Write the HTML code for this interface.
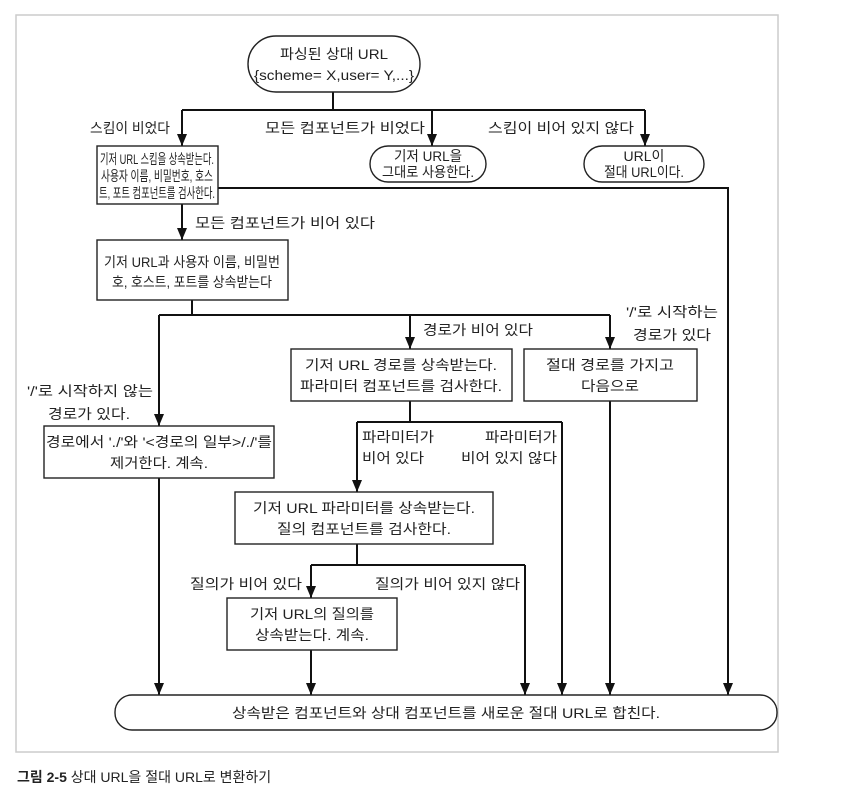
<!DOCTYPE html>
<html><head><meta charset="utf-8"><style>
body{margin:0;background:#fff}
svg text{font-family:"Liberation Sans","Noto Sans CJK KR",sans-serif;font-size:14px;fill:#222}
</style></head><body>
<svg width="852" height="805" viewBox="0 0 852 805" xmlns="http://www.w3.org/2000/svg">
<defs><marker id="a" markerWidth="12" markerHeight="10" refX="12" refY="5" orient="auto" markerUnits="userSpaceOnUse"><path d="M0,0 L12,5 L0,10 Z" fill="#111"/></marker></defs>
<rect x="16" y="15" width="762" height="737" fill="none" stroke="#ccc" stroke-width="1.5"/>
<g fill="none" stroke="#111" stroke-width="2">
<path d="M333,92 V110"/>
<path d="M182,110 H645"/>
<path d="M182,110 V146" marker-end="url(#a)"/>
<path d="M432,110 V146" marker-end="url(#a)"/>
<path d="M645,110 V146" marker-end="url(#a)"/>
<path d="M218,188 H728 V695" marker-end="url(#a)"/>
<path d="M182,204 V240" marker-end="url(#a)"/>
<path d="M192,300 V315"/>
<path d="M159,315 H610"/>
<path d="M159,315 V426" marker-end="url(#a)"/>
<path d="M410,315 V349" marker-end="url(#a)"/>
<path d="M610,315 V349" marker-end="url(#a)"/>
<path d="M410,401 V422"/>
<path d="M357,422 H562"/>
<path d="M357,422 V492" marker-end="url(#a)"/>
<path d="M562,422 V695" marker-end="url(#a)"/>
<path d="M357,544 V565"/>
<path d="M311,565 H525"/>
<path d="M311,565 V598" marker-end="url(#a)"/>
<path d="M525,565 V695" marker-end="url(#a)"/>
<path d="M159,478 V695" marker-end="url(#a)"/>
<path d="M311,650 V695" marker-end="url(#a)"/>
<path d="M610,401 V695" marker-end="url(#a)"/>
</g>
<g fill="#fff" stroke="#222" stroke-width="1.4">
<rect x="248" y="36" width="172" height="56" rx="28"/>
<rect x="97" y="146" width="121" height="58"/>
<rect x="370" y="146" width="116" height="36" rx="18"/>
<rect x="584" y="146" width="120" height="36" rx="18"/>
<rect x="97" y="240" width="191" height="60"/>
<rect x="291" y="349" width="221" height="52"/>
<rect x="524" y="349" width="173" height="52"/>
<rect x="44" y="426" width="230" height="52"/>
<rect x="235" y="492" width="258" height="52"/>
<rect x="227" y="598" width="170" height="52"/>
<rect x="115" y="695" width="662" height="35" rx="17"/>
</g>
<g text-anchor="middle">
<text x="334" y="59" textLength="108" lengthAdjust="spacingAndGlyphs">파싱된 상대 URL</text>
<text x="334" y="80" textLength="160" lengthAdjust="spacingAndGlyphs">{scheme= X,user= Y,...}</text>
<text x="157" y="164" font-size="13.5" textLength="114" lengthAdjust="spacingAndGlyphs">기저 URL 스킴을 상속받는다.</text>
<text x="157" y="181" font-size="13.5" textLength="112" lengthAdjust="spacingAndGlyphs">사용자 이름, 비밀번호, 호스</text>
<text x="157" y="198" font-size="13.5" textLength="116" lengthAdjust="spacingAndGlyphs">트, 포트 컴포넌트를 검사한다.</text>
<text x="428" y="161" font-size="13" textLength="68" lengthAdjust="spacingAndGlyphs">기저 URL을</text>
<text x="428" y="177" font-size="13" textLength="92" lengthAdjust="spacingAndGlyphs">그대로 사용한다.</text>
<text x="644" y="161" font-size="13">URL이</text>
<text x="644" y="177" font-size="13" textLength="80" lengthAdjust="spacingAndGlyphs">절대 URL이다.</text>
<text x="192" y="267" font-size="13" textLength="176" lengthAdjust="spacingAndGlyphs">기저 URL과 사용자 이름, 비밀번</text>
<text x="192" y="287" font-size="13" textLength="160" lengthAdjust="spacingAndGlyphs">호, 호스트, 포트를 상속받는다</text>
<text x="401" y="370" textLength="192" lengthAdjust="spacingAndGlyphs">기저 URL 경로를 상속받는다.</text>
<text x="401" y="391" textLength="202" lengthAdjust="spacingAndGlyphs">파라미터 컴포넌트를 검사한다.</text>
<text x="610" y="370" textLength="128" lengthAdjust="spacingAndGlyphs">절대 경로를 가지고</text>
<text x="610" y="391" textLength="58" lengthAdjust="spacingAndGlyphs">다음으로</text>
<text x="159" y="447" textLength="226" lengthAdjust="spacingAndGlyphs">경로에서 './'와 '&lt;경로의 일부&gt;/./'를</text>
<text x="159" y="468" textLength="98" lengthAdjust="spacingAndGlyphs">제거한다. 계속.</text>
<text x="364" y="513" textLength="222" lengthAdjust="spacingAndGlyphs">기저 URL 파라미터를 상속받는다.</text>
<text x="364" y="534" textLength="174" lengthAdjust="spacingAndGlyphs">질의 컴포넌트를 검사한다.</text>
<text x="312" y="619" textLength="124" lengthAdjust="spacingAndGlyphs">기저 URL의 질의를</text>
<text x="312" y="640" textLength="114" lengthAdjust="spacingAndGlyphs">상속받는다. 계속.</text>
<text x="446" y="718" textLength="428" lengthAdjust="spacingAndGlyphs">상속받은 컴포넌트와 상대 컴포넌트를 새로운 절대 URL로 합친다.</text>
</g>
<text x="90" y="133" textLength="80" lengthAdjust="spacingAndGlyphs">스킴이 비었다</text>
<text x="265" y="133" textLength="160" lengthAdjust="spacingAndGlyphs">모든 컴포넌트가 비었다</text>
<text x="488" y="133" textLength="146" lengthAdjust="spacingAndGlyphs">스킴이 비어 있지 않다</text>
<text x="195" y="228" textLength="180" lengthAdjust="spacingAndGlyphs">모든 컴포넌트가 비어 있다</text>
<text x="423" y="335" textLength="110" lengthAdjust="spacingAndGlyphs">경로가 비어 있다</text>
<text x="626" y="317" textLength="92" lengthAdjust="spacingAndGlyphs">'/'로 시작하는</text>
<text x="633" y="340" textLength="78" lengthAdjust="spacingAndGlyphs">경로가 있다</text>
<text x="27" y="396" textLength="126" lengthAdjust="spacingAndGlyphs">'/'로 시작하지 않는</text>
<text x="48" y="419" textLength="82" lengthAdjust="spacingAndGlyphs">경로가 있다.</text>
<text x="362" y="442" textLength="72" lengthAdjust="spacingAndGlyphs">파라미터가</text>
<text x="362" y="463" textLength="62" lengthAdjust="spacingAndGlyphs">비어 있다</text>
<text x="557" y="442" text-anchor="end" textLength="72" lengthAdjust="spacingAndGlyphs">파라미터가</text>
<text x="557" y="463" text-anchor="end" textLength="96" lengthAdjust="spacingAndGlyphs">비어 있지 않다</text>
<text x="190" y="589" textLength="112" lengthAdjust="spacingAndGlyphs">질의가 비어 있다</text>
<text x="375" y="589" textLength="145" lengthAdjust="spacingAndGlyphs">질의가 비어 있지 않다</text>
<text x="17" y="782" font-size="14"><tspan font-weight="bold">그림 2-5</tspan> 상대 URL을 절대 URL로 변환하기</text>
</svg>
</body></html>
